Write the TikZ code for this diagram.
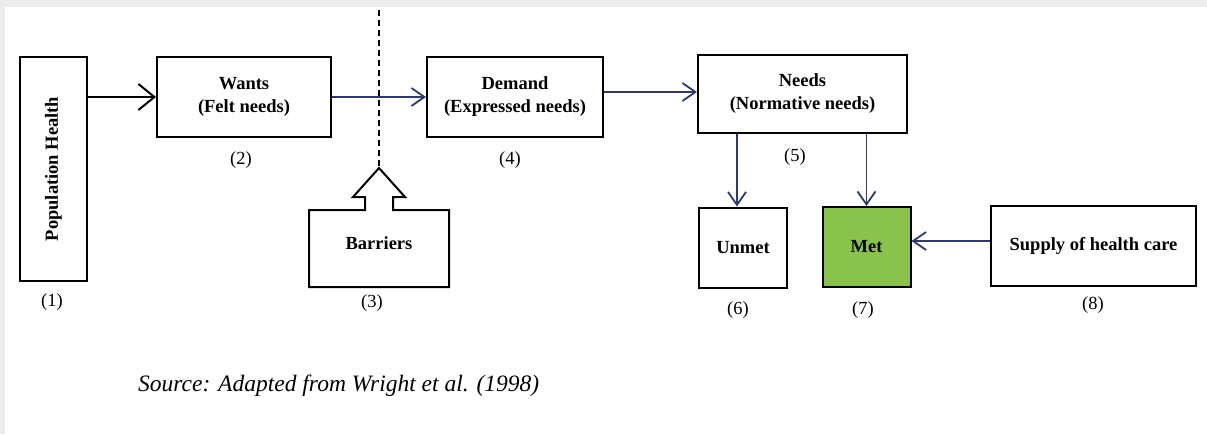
\documentclass[tikz,border=0pt]{standalone}
\usepackage{fontspec}
\setmainfont{Liberation Serif}
\usetikzlibrary{arrows.meta}
\definecolor{navy}{RGB}{44,58,112}
\definecolor{metgreen}{RGB}{138,195,76}
\definecolor{frame}{RGB}{236,236,236}
\tikzset{every picture/.append style={x=1pt, y=-1pt}}
\tikzset{
    box/.style={draw, line width=2pt, inner sep=0pt, align=center,
    	font=\fontsize{18.5}{23}\selectfont\bfseries},
    num/.style={inner sep=0pt, font=\fontsize{18.5}{23}\selectfont},
    flow/.style={line width=1.8pt, -{Straight Barb[length=13pt,width=18pt,line width=1.8pt]}},
    bigflow/.style={line width=2pt, -{Straight Barb[length=16pt,width=26pt,line width=2pt]}}
}

\begin{document}
\begin{tikzpicture}
	\useasboundingbox (0,0) rectangle (1207,434);
	\fill [frame] (0,0) rectangle (1207,7);
	\fill [frame] (0,7) rectangle (5,434);
	\node [box, minimum width=67pt, minimum height=224pt] (pop) at (53.5,169) {};
	\node [inner sep=0pt, rotate=90, font=\fontsize{18.5}{23}\selectfont\bfseries] (poptext) at (pop.center) {Population Health};
	\node [box, minimum width=174pt, minimum height=80pt] (wants) at (244,97) {Wants\\(Felt needs)};
	\node [box, minimum width=176pt, minimum height=80pt] (demand) at (515,97) {Demand\\(Expressed needs)};
	\node [box, minimum width=209pt, minimum height=78pt] (needs) at (802.5,94) {Needs\\(Normative needs)};
	\node [box, minimum width=88pt, minimum height=80pt] (unmet) at (743,247.5) {Unmet};
	\node [box, fill=metgreen, minimum width=88pt, minimum height=80pt] (met) at (866.5,247) {Met};
	\node [box, minimum width=205pt, minimum height=80pt] (supply) at (1093.5,246) {Supply of health care};
	\node [box, draw=none] (barriers) at (379,243) {Barriers};
	\node [num] (n1) at (52,302) {(1)};
	\node [num] (n2) at (241,160) {(2)};
	\node [num] (n3) at (372,303) {(3)};
	\node [num] (n4) at (510,160) {(4)};
	\node [num] (n5) at (795,157) {(5)};
	\node [num] (n6) at (738,310) {(6)};
	\node [num] (n7) at (863,310) {(7)};
	\node [num] (n8) at (1093,305) {(8)};
	\node [anchor=west, inner sep=0pt, font=\fontsize{23.5}{27}\selectfont\itshape] (source) at (138,386) {Source: Adapted from Wright et al. (1998)};
	% barrier block arrow
	\coordinate (btip) at (379,168);
	\coordinate (dtop) at (379,10);
	\draw [line width=2pt, line join=miter] (365,210) -- (309,210) -- (309,287) -- (449,287) -- (449,210)
		-- (393,210) -- (393,197) -- (405,197) -- (btip) -- (353,197) -- (365,197) -- cycle;
	\draw [line width=1.8pt, dash pattern=on 6pt off 4pt] (dtop) -- (btip);
	% flows
	\draw [bigflow] (pop.east |- wants.west) -- (wants.west);
	\draw [flow, navy] (wants.east) -- (demand.west);
	\draw [flow, navy] (demand.east |- 0,92) -- (needs.west |- 0,92);
	\draw [flow, navy] ([xshift=-6pt]needs.south -| unmet.north) -- ([xshift=-6pt]unmet.north);
	\draw [flow, navy] (needs.south -| met.north) -- (met.north);
	\draw [flow, navy] (supply.west |- 0,241) -- (met.east |- 0,241);
\end{tikzpicture}
\end{document}
